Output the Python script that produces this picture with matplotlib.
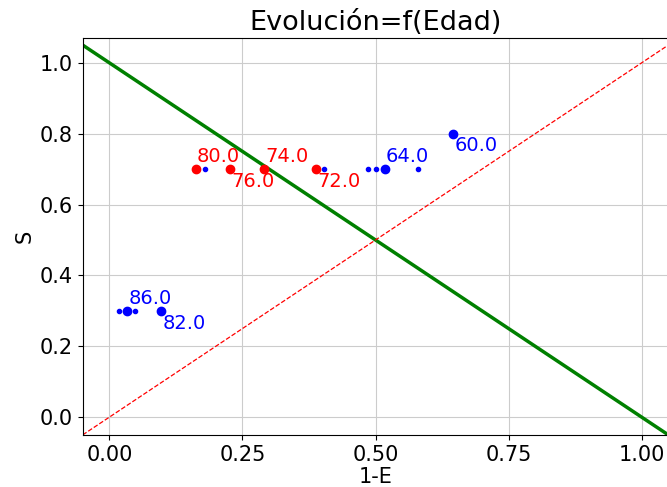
import matplotlib
matplotlib.use("Agg")
import matplotlib.pyplot as plt

# Labelled points: age, 1-E, S
red_ages = [80.0, 76.0, 74.0, 72.0]
red_x = [0.162, 0.226, 0.290, 0.388]
red_y = [0.7, 0.7, 0.7, 0.7]

blue_ages = [64.0, 60.0, 86.0, 82.0]
blue_x = [0.517, 0.646, 0.034, 0.097]
blue_y = [0.7, 0.8, 0.3, 0.3]

# Unlabelled small blue points
small_x = [0.179, 0.403, 0.485, 0.500, 0.580, 0.0175, 0.049]
small_y = [0.7, 0.7, 0.7, 0.7, 0.7, 0.3, 0.3]

# Label placement: True = above the point, False = below
red_above = [True, False, True, False]
blue_above = [True, False, True, False]

x_ticks = [0.0, 0.25, 0.5, 0.75, 1.0]
y_ticks = [0.0, 0.2, 0.4, 0.6, 0.8, 1.0]

fig = plt.figure(figsize=(6.67, 4.87), dpi=100)
ax = fig.add_axes([0.124, 0.107, 0.878, 0.815])

ax.grid(True, color="#cccccc", linewidth=0.8, zorder=0)
ax.set_axisbelow(True)

ax.axline((0, 1), (1, 0), color="green", linewidth=2.5, zorder=2)
ax.axline((0, 0), (1, 1), color="red", linestyle="--", linewidth=0.9, zorder=2)

ax.plot(small_x, small_y, ".", color="blue", zorder=3)
ax.plot(red_x, red_y, "o", color="red", zorder=3)
ax.plot(blue_x, blue_y, "o", color="blue", zorder=3)

def label(xs, ys, ages, above, color):
    for x, y, a, up in zip(xs, ys, ages, above):
        ax.annotate(f"{a:.1f}", (x, y), xytext=(1, 2 if up else -2),
                    textcoords="offset points", color=color, fontsize=14,
                    va="bottom" if up else "top", ha="left", zorder=4)

label(red_x, red_y, red_ages, red_above, "red")
label(blue_x, blue_y, blue_ages, blue_above, "blue")

ax.set_xlim(-0.05, 1.05)
ax.set_ylim(-0.05, 1.07)
ax.set_xticks(x_ticks)
ax.set_yticks(y_ticks)
ax.set_xticklabels([f"{t:.2f}" for t in x_ticks])
ax.set_yticklabels([f"{t:.1f}" for t in y_ticks])
ax.tick_params(labelsize=15)

ax.set_xlabel("1-E", fontsize=15, labelpad=2)
ax.set_ylabel("S", fontsize=15)
ax.set_title("Evolución=f(Edad)", fontsize=19.5)

fig.savefig("out.png", dpi=100)
